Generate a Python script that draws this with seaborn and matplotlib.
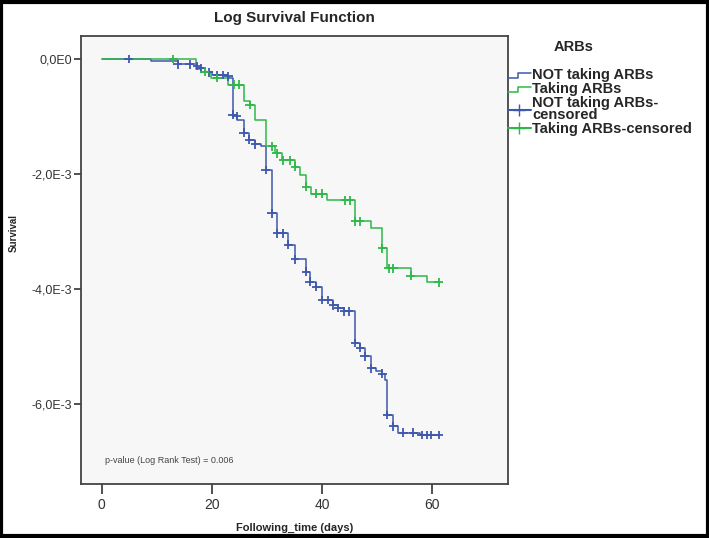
import numpy as np
import pandas as pd
import matplotlib
matplotlib.use('Agg')
import matplotlib.pyplot as plt
import seaborn as sns
from matplotlib.lines import Line2D
from matplotlib.patches import Rectangle
from matplotlib.legend_handler import HandlerBase
from matplotlib.ticker import FuncFormatter

# Log survival values are in units of 1E-3
not_t = [0, 9.0, 13.8, 17.3, 18.7, 20.0, 23.0, 23.8, 24.6, 25.8, 26.8, 27.9, 28.9, 29.8,
         30.9, 31.9, 33.9, 35.1, 37.1, 37.8, 39.0, 40.0, 42.1, 43.0, 44.0, 46.0, 46.9,
         47.8, 49.0, 49.8, 51.0, 51.4, 51.9, 53.0, 53.9, 57.8, 61.2]
not_s = [0, -0.03, -0.09, -0.16, -0.23, -0.28, -0.33, -0.97, -1.06, -1.28, -1.40, -1.48, -1.52, -1.93,
         -2.68, -3.03, -3.23, -3.48, -3.70, -3.87, -3.96, -4.19, -4.28, -4.33, -4.39, -4.94, -5.02,
         -5.17, -5.38, -5.42, -5.47, -5.58, -6.19, -6.39, -6.50, -6.54, -6.54]
not_cens_t = [4.9, 13.8, 16.0, 17.3, 18.0, 19.5, 21.0, 22.0, 23.0, 23.8, 24.5, 25.8, 26.8, 27.9,
              29.8, 30.9, 31.9, 32.9, 33.9, 35.1, 37.1, 37.8, 39.0, 40.0, 41.1, 42.1, 43.0, 44.0,
              44.9, 46.0, 46.9, 47.8, 49.0, 51.0, 51.9, 53.0, 54.8, 56.6, 58.1, 59.0, 59.9, 61.2]
not_cens_s = [0, -0.09, -0.09, -0.12, -0.16, -0.23, -0.28, -0.28, -0.30, -0.97, -0.99, -1.28, -1.40, -1.48,
              -1.93, -2.68, -3.03, -3.03, -3.23, -3.48, -3.70, -3.87, -3.96, -4.19, -4.19, -4.28, -4.33, -4.39,
              -4.39, -4.94, -5.02, -5.17, -5.38, -5.47, -6.19, -6.39, -6.50, -6.50, -6.54, -6.54, -6.54, -6.54]

arb_t = [0, 17.1, 18.0, 19.9, 23.0, 25.8, 26.9, 27.9, 29.9, 31.5, 32.7, 35.1, 36.0, 37.1,
         38.0, 41.0, 46.0, 49.0, 51.0, 51.8, 56.1, 59.0, 61.2]
arb_s = [0, -0.17, -0.22, -0.33, -0.45, -0.73, -0.80, -1.06, -1.52, -1.64, -1.76, -1.87, -2.02, -2.22,
         -2.34, -2.46, -2.82, -2.94, -3.29, -3.64, -3.77, -3.88, -3.88]
arb_cens_t = [13.0, 18.7, 21.0, 24.0, 25.0, 26.9, 31.0, 31.8, 33.0, 34.2, 35.1, 37.1, 38.9, 40.1,
              44.2, 45.1, 46.0, 46.9, 51.0, 52.1, 53.0, 56.1, 61.2]
arb_cens_s = [0, -0.22, -0.33, -0.45, -0.45, -0.80, -1.52, -1.64, -1.76, -1.76, -1.87, -2.22, -2.34, -2.34,
              -2.46, -2.46, -2.82, -2.82, -3.29, -3.64, -3.64, -3.77, -3.88]

blue = '#3E58AC'
green = '#2EB848'

sns.set_style('white')
plt.rcParams['font.family'] = ['Liberation Sans', 'DejaVu Sans']

curves = pd.concat([
    pd.DataFrame({'t': not_t, 's': np.array(not_s) * 1e-3, 'grp': 'NOT taking ARBs'}),
    pd.DataFrame({'t': arb_t, 's': np.array(arb_s) * 1e-3, 'grp': 'Taking ARBs'}),
])
cens = pd.concat([
    pd.DataFrame({'t': not_cens_t, 's': np.array(not_cens_s) * 1e-3, 'grp': 'NOT taking ARBs'}),
    pd.DataFrame({'t': arb_cens_t, 's': np.array(arb_cens_s) * 1e-3, 'grp': 'Taking ARBs'}),
])
pal = {'NOT taking ARBs': blue, 'Taking ARBs': green}

fig = plt.figure(figsize=(7.09, 5.38), dpi=100)
ax = fig.add_axes([0.114, 0.1004, 0.6025, 0.8327])
ax.set_facecolor('#F7F7F7')

sns.lineplot(data=curves, x='t', y='s', hue='grp', palette=pal, estimator=None, sort=False,
             drawstyle='steps-post', linewidth=1.1, legend=False, ax=ax)
sns.scatterplot(data=cens, x='t', y='s', hue='grp', palette=pal, marker='+', s=40,
                linewidth=1.3, legend=False, ax=ax, zorder=3)

ax.set_xlim(-3.8, 73.8)
ax.set_ylim(-7.39e-3, 0.40e-3)
ax.set_xticks([0, 20, 40, 60])
ax.set_yticks([0, -2e-3, -4e-3, -6e-3])
ax.yaxis.set_major_formatter(FuncFormatter(
    lambda v, p: '0,0E0' if abs(v) < 1e-9 else '%s,0E-3' % int(round(v * 1e3))))
ax.tick_params(axis='x', bottom=True, length=7, width=1.2, color='#333333',
               labelcolor='#333333', labelsize=10, pad=3)
ax.tick_params(axis='y', left=True, length=5, width=1.2, color='#333333',
               labelcolor='#333333', labelsize=9, pad=1)
for sp in ax.spines.values():
    sp.set_color('#444444')
    sp.set_linewidth(1.3)

ax.set_title('Log Survival Function', fontsize=11, fontweight='bold', pad=10)
ax.set_xlabel('Following_time (days)', fontsize=8, fontweight='bold', labelpad=8)
ax.set_ylabel('Survival', fontsize=7, fontweight='bold')
ax.yaxis.set_label_coords(-0.145, 0.56)
ax.text(0.056, 0.047, 'p-value (Log Rank Test) = 0.006', transform=ax.transAxes,
        fontsize=6.5, color='#444444')


class StepHandler(HandlerBase):
    def create_artists(self, legend, orig, xd, yd, w, h, fontsize, trans):
        xs = [xd, xd + w * 0.45, xd + w * 0.45, xd + w]
        ys = [yd + h * 0.15, yd + h * 0.15, yd + h * 0.65, yd + h * 0.65]
        return [Line2D(xs, ys, color=orig.get_color(), lw=1.1, transform=trans)]


h1 = Line2D([], [], color=blue)
h2 = Line2D([], [], color=green)
h3 = Line2D([], [], color=blue, marker='+', markersize=8)
h4 = Line2D([], [], color=green, marker='+', markersize=8)
leg = fig.legend([h1, h2, h3, h4],
                 ['NOT taking ARBs', 'Taking ARBs', 'NOT taking ARBs-\ncensored', 'Taking ARBs-censored'],
                 handler_map={h1: StepHandler(), h2: StepHandler()},
                 loc='upper left', bbox_to_anchor=(0.716, 0.873), frameon=False,
                 prop={'size': 10.5, 'weight': 'bold'}, labelspacing=0.0, handlelength=1.6,
                 handletextpad=0.1, borderaxespad=0, borderpad=0)
leg.get_texts()[2].set_linespacing(0.8)
fig.text(574 / 709, 1 - 47 / 538, 'ARBs', ha='center', va='center', fontsize=10.5,
         fontweight='bold')

fig.patches.append(Rectangle((0.002, 0.003), 0.996, 0.994, transform=fig.transFigure,
                             fill=False, edgecolor='black', linewidth=3))

fig.savefig('out.png', dpi=100)
